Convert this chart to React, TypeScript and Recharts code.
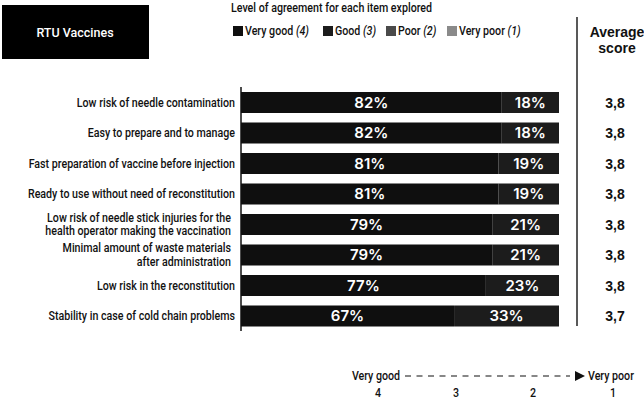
import { BarChart, Bar, XAxis, YAxis, Legend, LabelList } from "recharts";

const categories = [
    "Low risk of needle contamination",
    "Easy to prepare and to manage",
    "Fast preparation of vaccine before injection",
    "Ready to use without need of reconstitution",
    "Low risk of needle stick injuries for the\nhealth operator making the vaccination",
    "Minimal amount of waste materials\nafter administration",
    "Low risk in the reconstitution",
    "Stability in case of cold chain problems",
];
const veryGood = [82, 82, 81, 81, 79, 79, 77, 67];
const good = [18, 18, 19, 19, 21, 21, 23, 33];
const poor = [0, 0, 0, 0, 0, 0, 0, 0];
const veryPoor = [0, 0, 0, 0, 0, 0, 0, 0];
const averageScores = [3.8, 3.8, 3.8, 3.8, 3.8, 3.8, 3.8, 3.7];

const seriesNames = ["Very good", "Good", "Poor", "Very poor"];
const seriesScores = ["4", "3", "2", "1"];
const scaleTicks = ["4", "3", "2", "1"];

const COLORS = ["#0f0f0f", "#1c1c1c", "#4a4a4a", "#8a8a8a"];
const NARROW = "Roboto, sans-serif";
const SQUEEZE = 0.79;
const BOLD = "'Liberation Sans', Arial, sans-serif";

const data = categories.map((item, i) => ({
    item,
    veryGood: veryGood[i],
    good: good[i],
    poor: poor[i],
    veryPoor: veryPoor[i],
    score: averageScores[i],
}));

// condensed look: Roboto squeezed horizontally
const NarrowText = ({ x, y, anchor = "start", size = 13.5, children }: any) => (
    <text
        transform={`translate(${x},${y}) scale(${SQUEEZE},1)`}
        textAnchor={anchor}
        dominantBaseline="central"
        fontFamily={NARROW}
        fontWeight={500}
        fontSize={size}
        fill="#111"
    >
        {children}
    </text>
);

const CategoryTick = ({ y, payload }: any) => {
    const lines = String(payload.value).split("\n");
    const x = lines.length > 1 ? 231 : 235;
    const lh = 13.5;
    const start = y - ((lines.length - 1) * lh) / 2;
    return (
        <g>
            {lines.map((l, i) => (
                <NarrowText key={i} x={x} y={start + i * lh} anchor="end">
                    {l}
                </NarrowText>
            ))}
        </g>
    );
};

const legendX = [233, 323, 386, 447];

const LegendContent = ({ payload }: any) => {
    const colorOf = (name: string) => (payload || []).find((p: any) => p.value === name)?.color;
    return (
        <svg width={340} height={16}>
            {seriesNames.map((name, i) => (
                <g key={name}>
                    <rect x={legendX[i] - 233} y={3} width={10} height={10} fill={colorOf(name)} />
                    <text
                        transform={`translate(${legendX[i] - 233 + 12},8) scale(${SQUEEZE},1)`}
                        dominantBaseline="central"
                        fontFamily={NARROW}
                        fontWeight={500}
                        fontSize={13.5}
                        fill="#111"
                    >
                        {name} <tspan fontStyle="italic">({seriesScores[i]})</tspan>
                    </text>
                </g>
            ))}
        </svg>
    );
};

const ScoreLabel = ({ y, height, value }: any) => (
    <text
        x={615}
        y={y + height / 2}
        textAnchor="middle"
        dominantBaseline="central"
        fontFamily={BOLD}
        fontWeight="bold"
        fontSize={14}
        fill="#111"
    >
        {Number(value).toFixed(1).replace(".", ",")}
    </text>
);

const pct = (v: any) => (v ? `${v}%` : "");

const barLabelStyle = { fill: "#fff", fontFamily: "Inter, sans-serif", fontWeight: 600, fontSize: 15 };

const scaleX = [378, 456, 533, 613];

export default function App() {
    return (
        <div style={{ position: "absolute", left: 0, top: 0, width: 644, height: 400, background: "#fff" }}>
            <BarChart
                width={644}
                height={400}
                data={data}
                layout="vertical"
                margin={{ top: 87, right: 85, bottom: 69, left: 0 }}
            >
                <XAxis type="number" domain={[0, 100]} hide />
                <YAxis
                    type="category"
                    dataKey="item"
                    width={241}
                    axisLine={{ stroke: "#111", strokeWidth: 1.5 }}
                    tickLine={false}
                    tick={<CategoryTick />}
                    interval={0}
                />
                <Legend
                    verticalAlign="middle"
                    align="center"
                    content={<LegendContent />}
                    wrapperStyle={{ top: 23, left: 233, width: 340, height: 16 }}
                />
                <Bar dataKey="veryGood" name={seriesNames[0]} stackId="a" fill={COLORS[0]} barSize={21} isAnimationActive={false}>
                    <LabelList dataKey="veryGood" position="center" formatter={pct} style={barLabelStyle} />
                </Bar>
                <Bar dataKey="good" name={seriesNames[1]} stackId="a" fill={COLORS[1]} barSize={21} isAnimationActive={false}>
                    <LabelList dataKey="good" position="center" formatter={pct} style={barLabelStyle} />
                    <LabelList dataKey="score" content={<ScoreLabel />} />
                </Bar>
                <Bar dataKey="poor" name={seriesNames[2]} stackId="a" fill={COLORS[2]} barSize={21} isAnimationActive={false} />
                <Bar dataKey="veryPoor" name={seriesNames[3]} stackId="a" fill={COLORS[3]} barSize={21} isAnimationActive={false} />
            </BarChart>

            <svg width={644} height={400} style={{ position: "absolute", left: 0, top: 0, pointerEvents: "none" }}>
                <rect x={2} y={5} width={147} height={54} fill="#000" />
                <text x={75} y={32} textAnchor="middle" dominantBaseline="central" fill="#fff" fontFamily="Roboto, sans-serif" fontWeight={500} fontSize={12.5}>
                    RTU Vaccines
                </text>
                <NarrowText x={231} y={8}>
                    Level of agreement for each item explored
                </NarrowText>
                <line x1={577} x2={577} y1={17} y2={326} stroke="#222" strokeWidth={1.5} />
                <text x={617} y={32} textAnchor="middle" dominantBaseline="central" fill="#111" fontFamily={BOLD} fontWeight="bold" fontSize={14}>
                    Average
                </text>
                <text x={617} y={48} textAnchor="middle" dominantBaseline="central" fill="#111" fontFamily={BOLD} fontWeight="bold" fontSize={14}>
                    score
                </text>
                <NarrowText x={376} y={376} anchor="middle">
                    Very good
                </NarrowText>
                <line x1={405} x2={570} y1={376} y2={376} stroke="#111" strokeWidth={1.2} strokeDasharray="6 5.5" />
                <polygon points="575,371 585,376 575,381" fill="#111" />
                <NarrowText x={588} y={376}>
                    Very poor
                </NarrowText>
                {scaleTicks.map((t, i) => (
                    <NarrowText key={t} x={scaleX[i]} y={393} anchor="middle">
                        {t}
                    </NarrowText>
                ))}
            </svg>
        </div>
    );
}
